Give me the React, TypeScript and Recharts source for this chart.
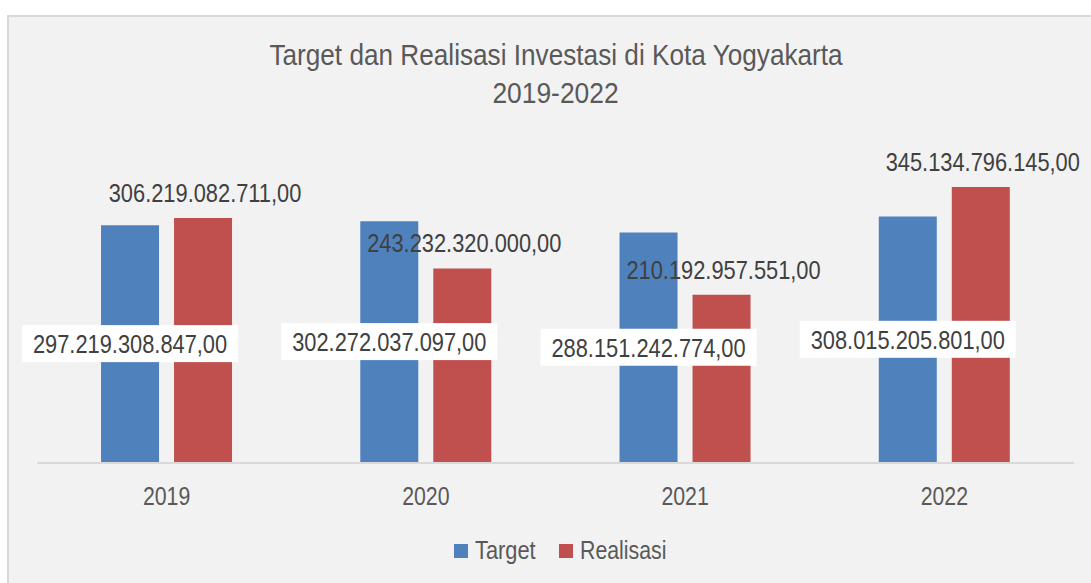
import React from "react";
import { BarChart, Bar, XAxis, YAxis, LabelList } from "recharts";

const categories = ["2019", "2020", "2021", "2022"];
const targetValues = [297219308847, 302272037097, 288151242774, 308015205801];
const realisasiValues = [306219082711, 243232320000, 210192957551, 345134796145];
const seriesNames = ["Target", "Realisasi"];
const titleLines = ["Target dan Realisasi Investasi di Kota Yogyakarta", "2019-2022"];

const data = categories.map((c, i) => ({ year: c, target: targetValues[i], realisasi: realisasiValues[i] }));

const FONT = "'Liberation Sans', Arial, sans-serif";
const TEXT = "#595959";
const LABEL = "#404040";
const BLUE = "#4f81bd";
const RED = "#c0504d";

const fmt = (v: number) => {
  const s = Math.round(v).toString().replace(/\B(?=(\d{3})+(?!\d))/g, ".");
  return s + ",00";
};

// horizontally condensed text (Arial Narrow look-alike)
const NText = (p: { x: number; y: number; k: number; fs: number; fill: string; anchor?: "start" | "middle" | "end"; children: React.ReactNode }) => (
  <g transform={`translate(${p.x},${p.y}) scale(${p.k},1)`}>
    <text x={0} y={0} textAnchor={p.anchor || "middle"} fontFamily={FONT} fontSize={p.fs} fill={p.fill}>
      {p.children}
    </text>
  </g>
);

const BoxLabel = (props: any) => {
  const { x, y, width, height, value } = props;
  const cx = x + width / 2;
  const cy = y + height / 2;
  const bw = 216;
  const bh = 37;
  return (
    <g>
      <rect x={cx - bw / 2} y={cy - 19} width={bw} height={bh} fill="#ffffff" />
      <NText x={cx} y={cy + 9} k={0.84} fs={26} fill={LABEL}>
        {fmt(value)}
      </NText>
    </g>
  );
};

const TopLabel = (props: any) => {
  const { x, y, width, value } = props;
  return (
    <NText x={x + width / 2 + 2} y={y - 16} k={0.84} fs={26} fill={LABEL}>
      {fmt(value)}
    </NText>
  );
};

const YearTick = (props: any) => {
  const { x, payload } = props;
  return (
    <NText x={x} y={505} k={0.82} fs={26} fill={TEXT}>
      {String(payload.value)}
    </NText>
  );
};

export default function App() {
  return (
    <div style={{ position: "absolute", left: 0, top: 0, width: 1091, height: 583, background: "#ffffff", overflow: "hidden" }}>
      <div style={{ position: "absolute", left: 7, top: 15, width: 1100, height: 600, background: "#f2f2f2", borderLeft: "2px solid #d9d9d9", borderTop: "2px solid #d9d9d9", boxSizing: "border-box" }} />
      <div style={{ position: "absolute", left: 0, top: 0 }}>
        <BarChart width={1091} height={583} data={data} margin={{ top: 143, right: 17, bottom: 0, left: 37 }} barCategoryGap="24.7%" barGap={15}>
          <XAxis dataKey="year" axisLine={{ stroke: "#d9d9d9", strokeWidth: 2 }} tickLine={false} tick={<YearTick />} height={120} interval={0} />
          <YAxis hide domain={[0, 400000000000]} />
          <Bar dataKey="target" name={seriesNames[0]} fill={BLUE} isAnimationActive={false}>
            <LabelList dataKey="target" content={BoxLabel} />
          </Bar>
          <Bar dataKey="realisasi" name={seriesNames[1]} fill={RED} isAnimationActive={false}>
            <LabelList dataKey="realisasi" content={TopLabel} />
          </Bar>
        </BarChart>
      </div>
      <svg width={1091} height={583} style={{ position: "absolute", left: 0, top: 0, pointerEvents: "none" }}>
        <NText x={556} y={65} k={0.873} fs={30} fill={TEXT}>
          {titleLines[0]}
        </NText>
        <NText x={555.5} y={103} k={0.88} fs={30} fill={TEXT}>
          {titleLines[1]}
        </NText>
        <rect x={454} y={544} width={14} height={14} fill={BLUE} />
        <NText x={475} y={559} k={0.84} fs={26} fill={TEXT} anchor="start">
          {seriesNames[0]}
        </NText>
        <rect x={559} y={544} width={14} height={14} fill={RED} />
        <NText x={580} y={559} k={0.82} fs={26} fill={TEXT} anchor="start">
          {seriesNames[1]}
        </NText>
      </svg>
    </div>
  );
}
